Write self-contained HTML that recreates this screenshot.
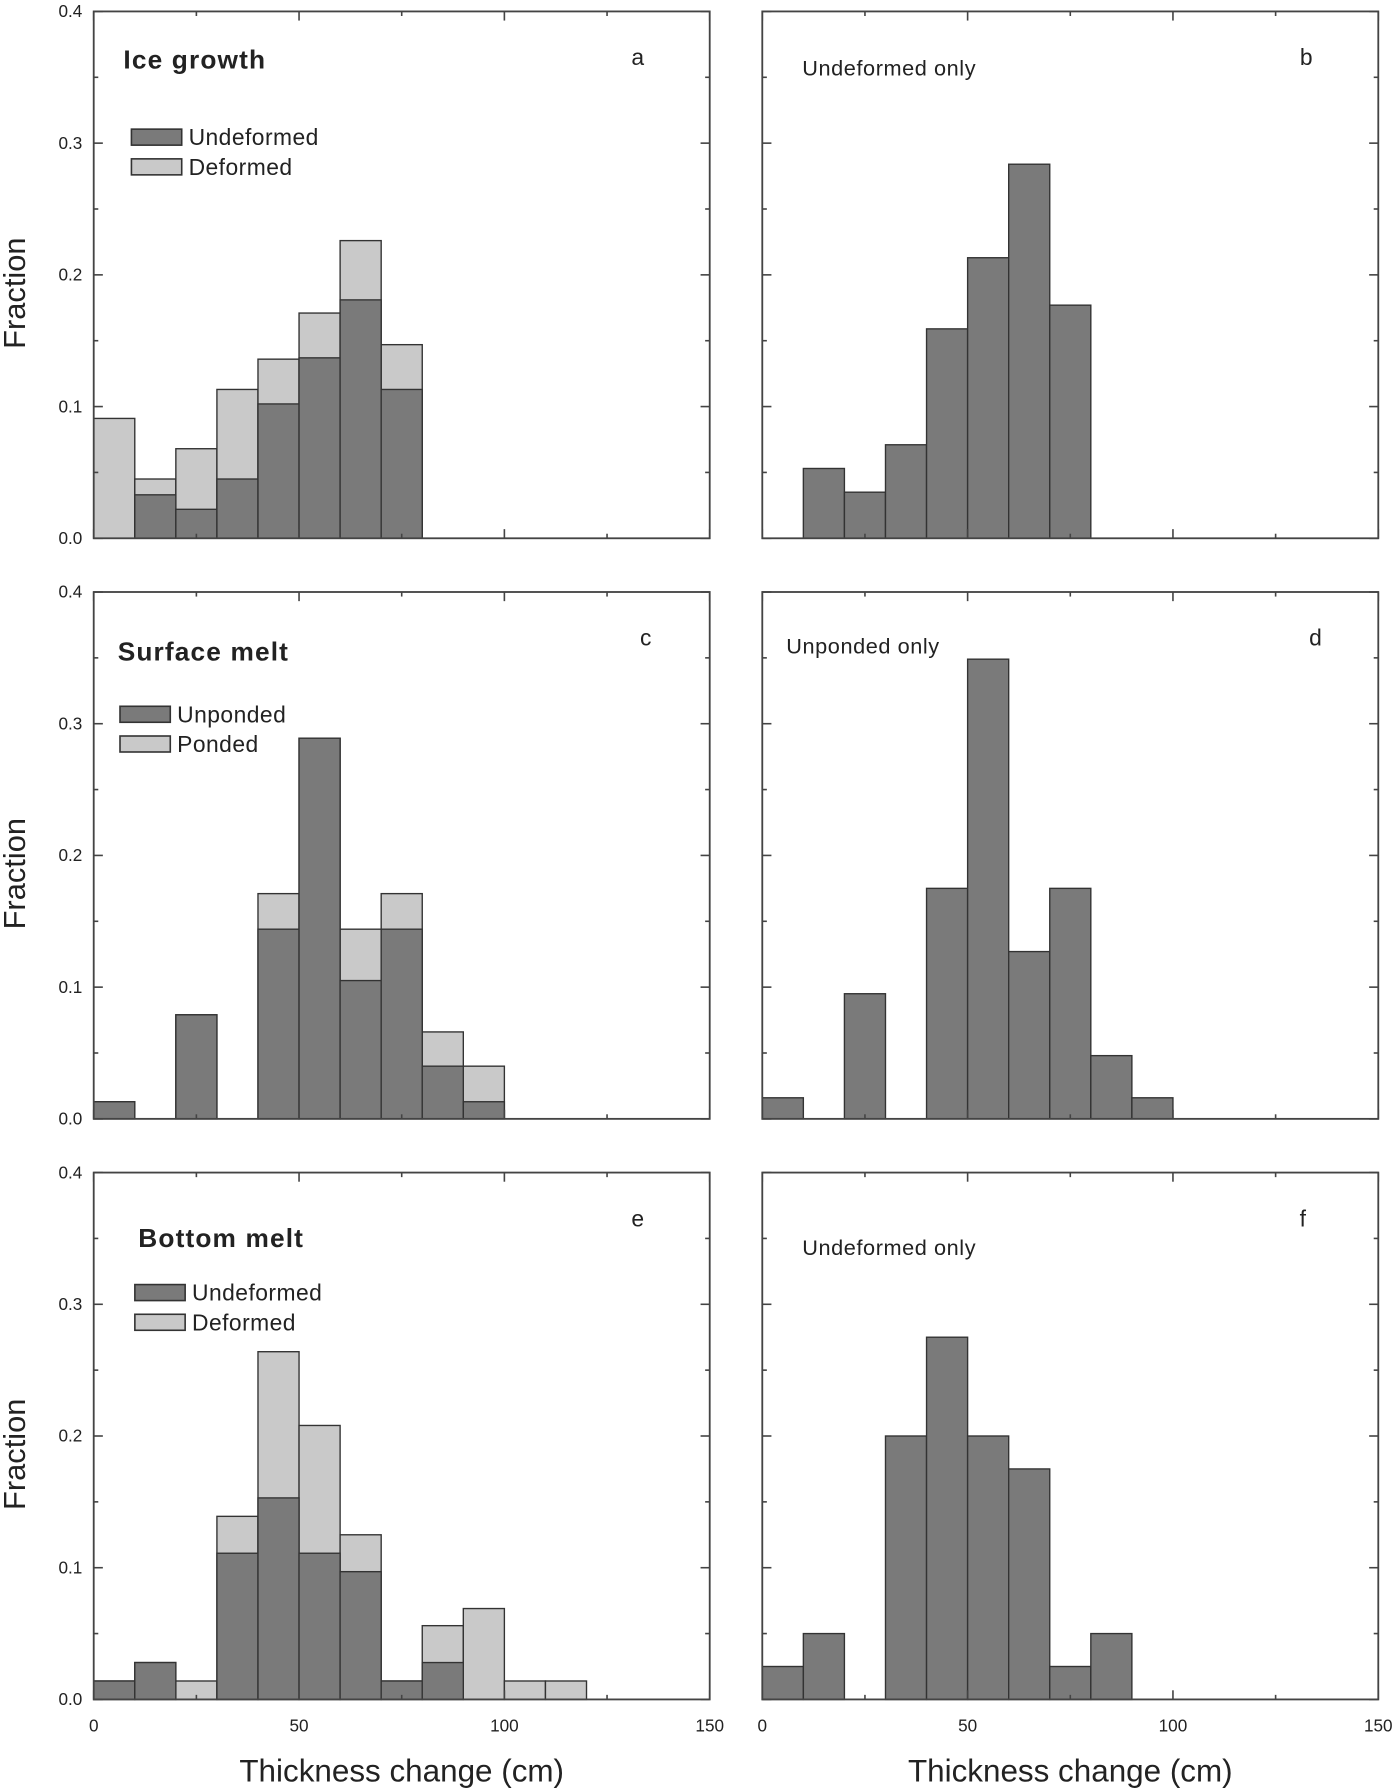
<!DOCTYPE html>
<html><head><meta charset="utf-8"><style>
html,body{margin:0;padding:0;background:#fff}
svg{display:block;font-family:"Liberation Sans",sans-serif}
</style></head><body>
<svg id="chart" width="1400" height="1792" viewBox="0 0 1225 1568" xmlns="http://www.w3.org/2000/svg"></svg>
<script>
const binWidth = 10;
const aUndeformed = [0, 0.033, 0.022, 0.045, 0.102, 0.137, 0.181, 0.113];
const aTotal = [0.091, 0.045, 0.068, 0.113, 0.136, 0.171, 0.226, 0.147];
const bUndeformed = [0, 0.053, 0.035, 0.071, 0.159, 0.213, 0.284, 0.177];
const cUnponded = [0.013, 0, 0.079, 0, 0.144, 0.289, 0.105, 0.144, 0.040, 0.013];
const cTotal = [0.013, 0, 0.079, 0, 0.171, 0.289, 0.144, 0.171, 0.066, 0.040];
const dUnponded = [0.016, 0, 0.095, 0, 0.175, 0.349, 0.127, 0.175, 0.048, 0.016];
const eUndeformed = [0.014, 0.028, 0, 0.111, 0.153, 0.111, 0.097, 0.014, 0.028, 0, 0, 0];
const eTotal = [0.014, 0.028, 0.014, 0.139, 0.264, 0.208, 0.125, 0.014, 0.056, 0.069, 0.014, 0.014];
const fUndeformed = [0.025, 0.050, 0, 0.200, 0.275, 0.200, 0.175, 0.025, 0.050];
const yTicks = [0, 0.1, 0.2, 0.3, 0.4];
const yTickLabels = ["0.0", "0.1", "0.2", "0.3", "0.4"];
const xTicks = [0, 50, 100, 150];
const xTickLabels = ["0", "50", "100", "150"];

const svg = document.getElementById('chart');
const NS = 'http://www.w3.org/2000/svg';
function mk(tag, attrs, parent, text) {
  const e = document.createElementNS(NS, tag);
  for (const k in attrs) e.setAttribute(k, attrs[k]);
  if (text !== undefined) e.textContent = text;
  (parent || svg).appendChild(e);
  return e;
}
const DARK = '#7a7a7a', LIGHT = '#c9c9c9';
const cols = [82, 667], colW = 539;
const rows = [10, 518, 1026], rowH = 461;

function panel(id, col, row, series, opts) {
  const L = cols[col], T = rows[row], R = L + colW, B = T + rowH;
  const x = v => L + v / 150 * colW;
  const y = v => B - v / 0.4 * rowH;
  const g = mk('g', {});
  
  
  series.forEach(s => {
    s.values.forEach((v, i) => {
      if (v <= 0) return;
      const r = mk('rect', {x: x(i * binWidth), y: y(v), width: x((i + 1) * binWidth) - x(i * binWidth), height: y(0) - y(v), fill: s.color, stroke: '#333', 'stroke-width': 1.2}, g);
      
      
    });
  });
  const frame = mk('rect', {x: L, y: T, width: colW, height: rowH, fill: 'none', stroke: '#444', 'stroke-width': 1.6}, g);
  
  
  for (let v = 0; v <= 0.4001; v += 0.05) {
    const major = Math.abs(v * 10 - Math.round(v * 10)) < 1e-6;
    const len = major ? 8 : 4;
    mk('line', {x1: L, x2: L + len, y1: y(v), y2: y(v), stroke: '#444', 'stroke-width': 1.4}, g);
    mk('line', {x1: R, x2: R - len, y1: y(v), y2: y(v), stroke: '#444', 'stroke-width': 1.4}, g);
  }
  for (let v = 0; v <= 150; v += 25) {
    const len = v % 50 === 0 ? 8 : 4;
    mk('line', {x1: x(v), x2: x(v), y1: B, y2: B - len, stroke: '#444', 'stroke-width': 1.4}, g);
    mk('line', {x1: x(v), x2: x(v), y1: T, y2: T + len, stroke: '#444', 'stroke-width': 1.4}, g);
  }
  if (col === 0) {
    yTicks.forEach((v, i) => {
      const t = mk('text', {x: L - 10, y: y(v) + 5, 'text-anchor': 'end', 'font-size': 15, fill: '#222'}, g, yTickLabels[i]);
      
      
    });
    const yl = mk('text', {x: 0, y: 0, transform: `translate(22,${T + rowH / 2 + 16}) rotate(-90)`, 'text-anchor': 'middle', 'font-size': 27, fill: '#222'}, g, 'Fraction');
    
    
  }
  if (row === 2) {
    xTicks.forEach((v, i) => {
      const t = mk('text', {x: x(v), y: B + 28, 'text-anchor': 'middle', 'font-size': 15, fill: '#222'}, g, xTickLabels[i]);
      
      
    });
    const xl = mk('text', {x: L + colW / 2, y: B + 72, 'text-anchor': 'middle', 'font-size': 27.5, fill: '#222'}, g, 'Thickness change (cm)');
    
    
  }
  const pl = mk('text', {x: opts.letterX, y: T + 47, 'text-anchor': 'middle', 'font-size': 20, fill: '#222'}, g, id);
  
  
  if (opts.title) {
    const tt = mk('text', {x: opts.titleX, y: T + opts.titleDy, 'font-size': opts.bold ? 23 : 19, 'font-weight': opts.bold ? 'bold' : 'normal', 'letter-spacing': opts.bold ? 1 : 0.5, fill: '#222'}, g, opts.title);
    
    
  }
  if (opts.legend) {
    opts.legend.forEach((lg, i) => {
      const yy = T + opts.legDy + i * 26;
      const sw = mk('rect', {x: opts.legX, y: yy, width: 44, height: 14, fill: lg[1], stroke: '#333', 'stroke-width': 1.4}, g);
      
      
      const lt = mk('text', {x: opts.legX + 50, y: yy + 14, 'font-size': 20, fill: '#222', 'letter-spacing': 0.4}, g, lg[0]);
      
      
    });
  }
}

panel('a', 0, 0, [{name: 'deformed', values: aTotal, color: LIGHT}, {name: 'undeformed', values: aUndeformed, color: DARK}],
  {letterX: 558, title: 'Ice  growth', titleX: 108, titleDy: 50, bold: true, legX: 115, legDy: 103, legend: [['Undeformed', DARK], ['Deformed', LIGHT]]});
panel('b', 1, 0, [{name: 'undeformed', values: bUndeformed, color: DARK}],
  {letterX: 1143, title: 'Undeformed only', titleX: 702, titleDy: 56});
panel('c', 0, 1, [{name: 'ponded', values: cTotal, color: LIGHT}, {name: 'unponded', values: cUnponded, color: DARK}],
  {letterX: 565, title: 'Surface melt', titleX: 103, titleDy: 60, bold: true, legX: 105, legDy: 100, legend: [['Unponded', DARK], ['Ponded', LIGHT]]});
panel('d', 1, 1, [{name: 'unponded', values: dUnponded, color: DARK}],
  {letterX: 1151, title: 'Unponded only', titleX: 688, titleDy: 54});
panel('e', 0, 2, [{name: 'deformed', values: eTotal, color: LIGHT}, {name: 'undeformed', values: eUndeformed, color: DARK}],
  {letterX: 558, title: 'Bottom melt', titleX: 121, titleDy: 65, bold: true, legX: 118, legDy: 98, legend: [['Undeformed', DARK], ['Deformed', LIGHT]]});
panel('f', 1, 2, [{name: 'undeformed', values: fUndeformed, color: DARK}],
  {letterX: 1140, title: 'Undeformed only', titleX: 702, titleDy: 72});
</script>
</body></html>
